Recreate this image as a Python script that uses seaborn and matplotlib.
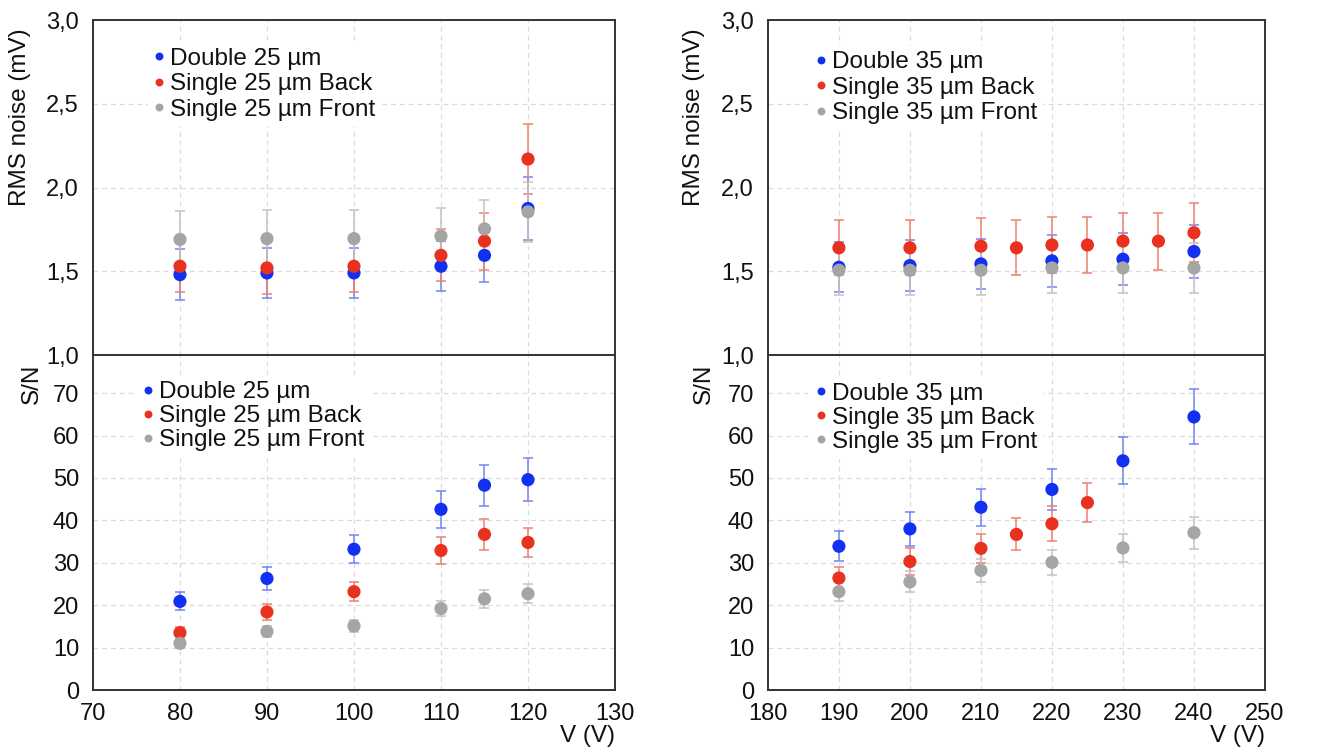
import numpy as np
import pandas as pd
import matplotlib
matplotlib.use("Agg")
import matplotlib.pyplot as plt
from matplotlib.ticker import FuncFormatter, MultipleLocator
import seaborn as sns

# ---------------- data ----------------
# 25 um sensors
v25_double = [80, 90, 100, 110, 115, 120]
v25_back = [80, 90, 100, 110, 115, 120]
v25_front = [80, 90, 100, 110, 115, 120]

rms25_double = [1.48, 1.49, 1.49, 1.53, 1.595, 1.875]
rms25_double_err = [0.15, 0.15, 0.15, 0.15, 0.16, 0.19]
rms25_back = [1.53, 1.52, 1.53, 1.595, 1.68, 2.17]
rms25_back_err = [0.155, 0.155, 0.155, 0.155, 0.17, 0.21]
rms25_front = [1.69, 1.695, 1.695, 1.71, 1.753, 1.855]
rms25_front_err = [0.17, 0.17, 0.17, 0.17, 0.17, 0.18]

sn25_double = [20.9, 26.3, 33.2, 42.6, 48.3, 49.6]
sn25_double_err = [2.1, 2.6, 3.3, 4.3, 4.8, 5.0]
sn25_back = [13.5, 18.4, 23.2, 32.9, 36.7, 34.8]
sn25_back_err = [1.4, 1.8, 2.3, 3.3, 3.7, 3.4]
sn25_front = [11.0, 13.8, 15.1, 19.2, 21.5, 22.7]
sn25_front_err = [1.0, 1.2, 1.5, 1.8, 2.1, 2.3]

# 35 um sensors
v35_double = [190, 200, 210, 220, 230, 240]
v35_back_rms = [190, 200, 210, 215, 220, 225, 230, 235, 240]
v35_back_sn = [190, 200, 210, 215, 220, 225]
v35_front = [190, 200, 210, 220, 230, 240]

rms35_double = [1.524, 1.534, 1.544, 1.562, 1.572, 1.618]
rms35_double_err = [0.15, 0.15, 0.15, 0.155, 0.155, 0.16]
rms35_back = [1.64, 1.64, 1.65, 1.64, 1.657, 1.657, 1.68, 1.68, 1.73]
rms35_back_err = [0.165, 0.165, 0.167, 0.165, 0.168, 0.168, 0.17, 0.17, 0.175]
rms35_front = [1.506, 1.506, 1.506, 1.52, 1.52, 1.52]
rms35_front_err = [0.15, 0.15, 0.15, 0.15, 0.15, 0.15]

sn35_double = [33.9, 38.0, 43.1, 47.3, 54.05, 64.4]
sn35_double_err = [3.5, 4.0, 4.4, 4.8, 5.5, 6.5]
sn35_back = [26.4, 30.3, 33.4, 36.7, 39.2, 44.2]
sn35_back_err = [2.7, 3.1, 3.5, 3.8, 4.1, 4.5]
sn35_front = [23.2, 25.5, 28.2, 30.1, 33.5, 37.1]
sn35_front_err = [2.3, 2.5, 2.8, 3.0, 3.3, 3.8]

# ---------------- style ----------------
sns.set_theme(style="white")
plt.rcParams["font.family"] = ["Liberation Sans", "DejaVu Sans"]

BLUE, RED, GRAY = "#1230f2", "#e8321f", "#a5a5a5"
BLUE_E, RED_E, GRAY_E = "#7384f5", "#f08070", "#c4c4c4"
FRAME = "#333333"
TXT = "#111111"
TICK_FS = 17
LAB_FS = 17.5
LEG_FS = 17.5

fig = plt.figure(figsize=(13.24, 7.56), dpi=100)
ax_tl = fig.add_axes([0.0702, 0.5304, 0.3943, 0.4431])
ax_bl = fig.add_axes([0.0702, 0.0873, 0.3943, 0.4431])
ax_tr = fig.add_axes([0.5800, 0.5304, 0.3754, 0.4431])
ax_br = fig.add_axes([0.5800, 0.0873, 0.3754, 0.4431])


def make_df(xs, ys, errs, labels):
    frames = []
    for x, y, e, lab in zip(xs, ys, errs, labels):
        frames.append(pd.DataFrame({"V": x, "val": y, "err": e, "series": lab}))
    return pd.concat(frames, ignore_index=True)


def draw(ax, df, labels, leg_anchor, spacing):
    palette = dict(zip(labels, [BLUE, RED, GRAY]))
    ecolors = dict(zip(labels, [BLUE_E, RED_E, GRAY_E]))
    for lab in labels:
        sub = df[df["series"] == lab]
        ax.errorbar(sub["V"], sub["val"], yerr=sub["err"], fmt="none",
                    ecolor=ecolors[lab], elinewidth=1.1, capsize=3.5,
                    capthick=1.1, zorder=2)
    sns.scatterplot(data=df, x="V", y="val", hue="series", hue_order=labels,
                    palette=palette, s=90, edgecolor="none", linewidth=0,
                    ax=ax, zorder=3, legend=True)
    handles, hl = ax.get_legend_handles_labels()
    leg = ax.legend(handles, hl, loc="upper left", bbox_to_anchor=leg_anchor,
                    fontsize=LEG_FS, frameon=True, facecolor="white",
                    edgecolor="none", framealpha=1.0, borderpad=0.25,
                    borderaxespad=0, handlelength=0.4, handletextpad=0.25,
                    labelspacing=spacing, markerscale=0.6, labelcolor=TXT)
    leg.set_zorder(4)
    ax.grid(True, color="#dcdcdc", linestyle=(0, (4, 3)), linewidth=0.9)
    ax.set_axisbelow(True)
    for sp in ax.spines.values():
        sp.set_visible(True)
        sp.set_color(FRAME)
        sp.set_linewidth(1.4)
    ax.tick_params(axis="both", length=0, labelsize=TICK_FS, colors=TXT)
    ax.tick_params(axis="y", pad=10)
    ax.tick_params(axis="x", pad=9)


lab25 = ["Double 25 µm", "Single 25 µm Back", "Single 25 µm Front"]
lab35 = ["Double 35 µm", "Single 35 µm Back", "Single 35 µm Front"]

df_tl = make_df([v25_double, v25_back, v25_front],
                [rms25_double, rms25_back, rms25_front],
                [rms25_double_err, rms25_back_err, rms25_front_err], lab25)
df_bl = make_df([v25_double, v25_back, v25_front],
                [sn25_double, sn25_back, sn25_front],
                [sn25_double_err, sn25_back_err, sn25_front_err], lab25)
df_tr = make_df([v35_double, v35_back_rms, v35_front],
                [rms35_double, rms35_back, rms35_front],
                [rms35_double_err, rms35_back_err, rms35_front_err], lab35)
df_br = make_df([v35_double, v35_back_sn, v35_front],
                [sn35_double, sn35_back, sn35_front],
                [sn35_double_err, sn35_back_err, sn35_front_err], lab35)

draw(ax_tl, df_tl, lab25, (0.105, 0.935), 0.14)
draw(ax_bl, df_bl, lab25, (0.085, 0.94), 0.08)
draw(ax_tr, df_tr, lab35, (0.085, 0.925), 0.14)
draw(ax_br, df_br, lab35, (0.085, 0.935), 0.08)

comma = FuncFormatter(lambda v, p: f"{v:.1f}".replace(".", ","))

for ax, (x0, x1) in [(ax_tl, (70, 130)), (ax_tr, (180, 250))]:
    ax.set_xlim(x0, x1)
    ax.set_ylim(1.0, 3.0)
    ax.yaxis.set_major_locator(MultipleLocator(0.5))
    ax.yaxis.set_major_formatter(comma)
    ax.xaxis.set_major_locator(MultipleLocator(10))
    ax.tick_params(axis="x", labelbottom=False)
    ax.set_xlabel("")
    ax.set_ylabel("RMS noise (mV)", fontsize=LAB_FS, color=TXT)

for ax, (x0, x1) in [(ax_bl, (70, 130)), (ax_br, (180, 250))]:
    ax.set_xlim(x0, x1)
    ax.set_ylim(0, 79)
    ax.yaxis.set_major_locator(MultipleLocator(10))
    ax.xaxis.set_major_locator(MultipleLocator(10))
    ax.set_ylabel("S/N", fontsize=LAB_FS, color=TXT)
    ax.set_xlabel("V (V)", fontsize=LAB_FS, color=TXT)
    ax.xaxis.label.set_ha("right")
    ax.xaxis.set_label_coords(1.0, -0.105)

ax_tl.yaxis.set_label_coords(-0.119, 0.71)
ax_tr.yaxis.set_label_coords(-0.127, 0.71)
ax_bl.yaxis.set_label_coords(-0.096, 0.915)
ax_br.yaxis.set_label_coords(-0.107, 0.915)

fig.savefig("out.png", dpi=100, facecolor="white")
